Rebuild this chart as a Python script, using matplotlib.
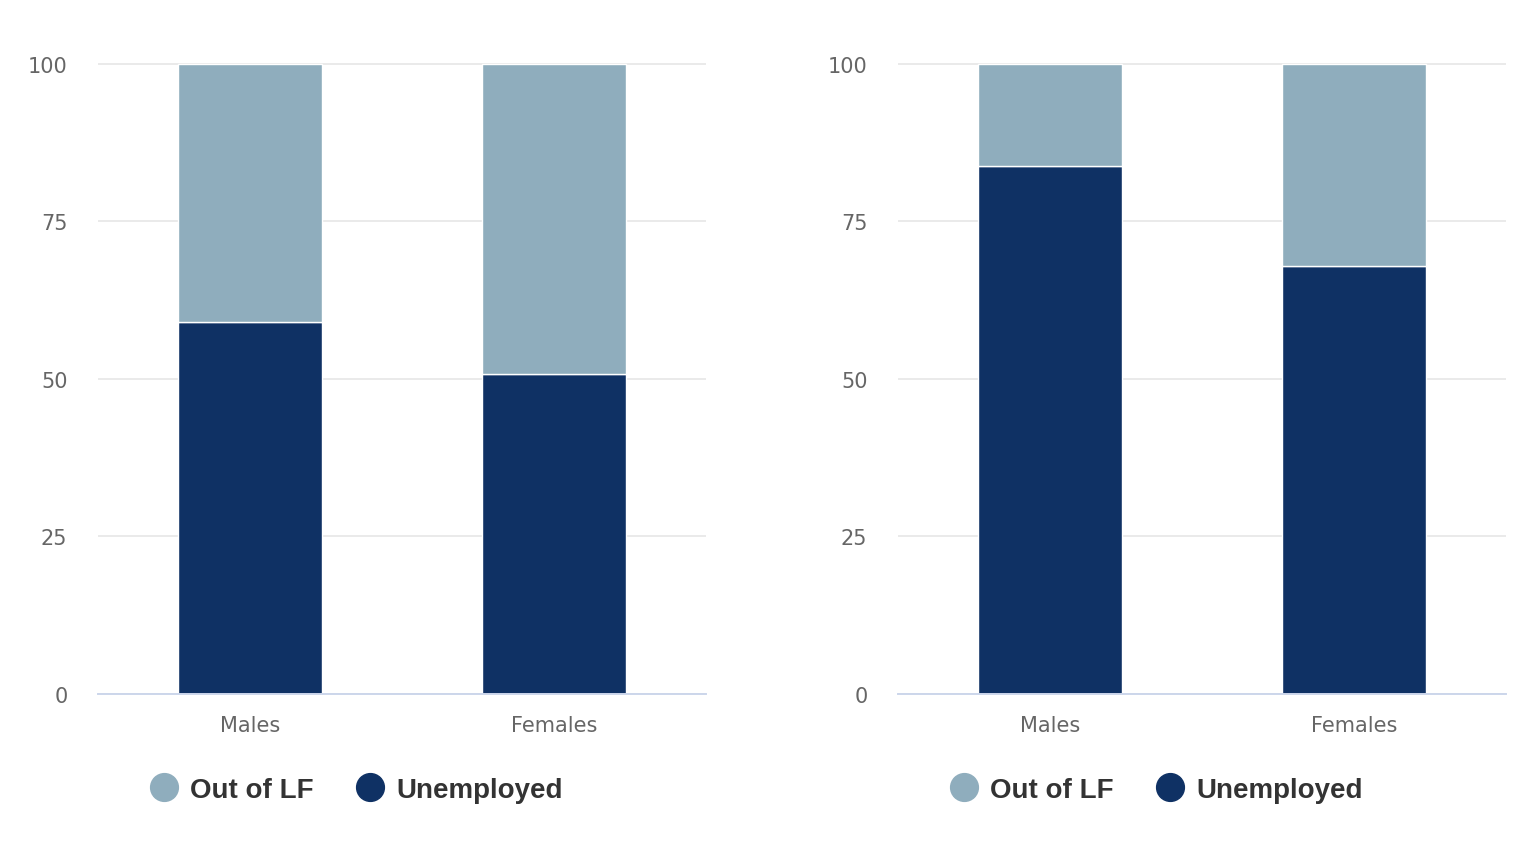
import matplotlib.pyplot as plt
from matplotlib.lines import Line2D

categories = ['Males', 'Females']
unemployed_left = [59.0, 50.8]
out_lf_left = [41.0, 49.2]
unemployed_right = [83.8, 67.9]
out_lf_right = [16.2, 32.1]

light = '#8fadbd'
dark = '#0f3164'

fig = plt.figure(figsize=(15.28, 8.62), dpi=100)
ax1 = fig.add_axes([98/1528, 167/862, 608/1528, 632/862])
ax2 = fig.add_axes([898/1528, 167/862, 608/1528, 632/862])

for ax, unemp, outlf in [(ax1, unemployed_left, out_lf_left), (ax2, unemployed_right, out_lf_right)]:
    x = range(len(categories))
    ax.bar(x, unemp, width=0.474, color=dark, edgecolor='white', linewidth=1, zorder=3)
    ax.bar(x, outlf, bottom=unemp, width=0.474, color=light, edgecolor='white', linewidth=1, zorder=3)
    ax.set_xlim(-0.5, 1.5)
    ax.set_ylim(0, 100.3)
    ax.set_yticks([0, 25, 50, 75, 100])
    ax.set_xticks(list(x))
    ax.set_xticklabels(categories)
    ax.grid(axis='y', color='#e6e6e6', linewidth=1.2, zorder=0)
    for s in ['top', 'right', 'left']:
        ax.spines[s].set_visible(False)
    ax.spines['bottom'].set_color('#ccd6eb')
    ax.spines['bottom'].set_linewidth(1.4)
    ax.spines['bottom'].set_zorder(4)
    ax.tick_params(axis='y', length=0, pad=22, labelsize=15, labelcolor='#666666')
    ax.tick_params(axis='x', length=0, pad=15, labelsize=15, labelcolor='#666666')

    handles = [Line2D([], [], marker='o', linestyle='none', markersize=20, color=light, label='Out of LF'),
               Line2D([], [], marker='o', linestyle='none', markersize=20, color=dark, label='Unemployed')]
    leg = ax.legend(handles=handles, loc='center left', bbox_to_anchor=(0.04, -0.152), ncol=2,
                    frameon=False, handletextpad=0.35, columnspacing=1.4, handlelength=1.2,
                    prop={'family': 'Liberation Sans', 'weight': 'bold', 'size': 20})
    for t in leg.get_texts():
        t.set_color('#333333')

plt.savefig('out.png', dpi=100)
